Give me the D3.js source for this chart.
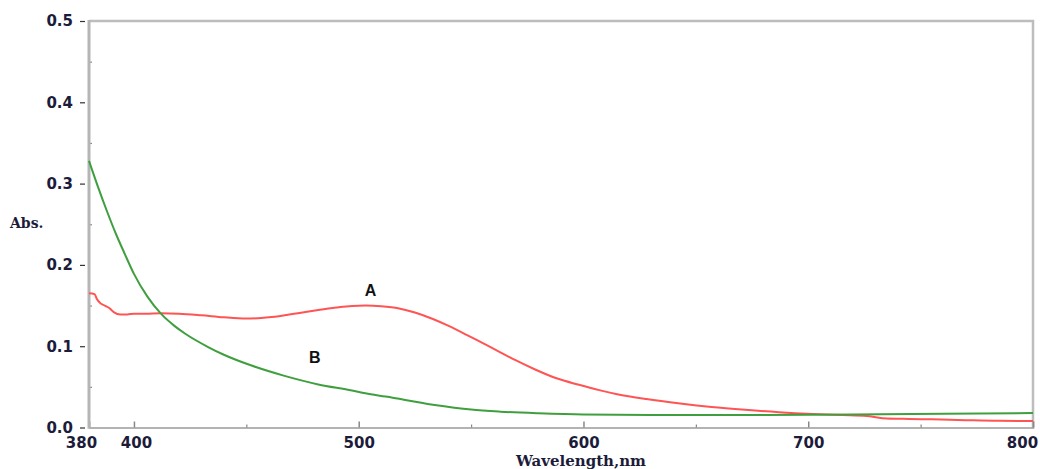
<!DOCTYPE html>
<html>
<head>
<meta charset="utf-8">
<script src="https://cdn.jsdelivr.net/npm/d3@7"></script>
<style>
  html, body { margin: 0; padding: 0; background: #ffffff; }
  svg { display: block; }
</style>
</head>
<body>
<svg id="chart" width="1040" height="469"></svg>
<script>
// ---- data ----
const xTicks = [380, 400, 500, 600, 700, 800];
const xMinorTicks = [450, 550, 650, 750];
const yTicks = [0.0, 0.1, 0.2, 0.3, 0.4, 0.5];
const yMinorTicks = [0.05, 0.15, 0.25, 0.35, 0.45];

const wavelengthA = [380, 382.5, 383.5, 385, 387, 389, 391, 394, 397, 400, 405, 412, 420, 430, 440, 450, 460, 467, 475, 482, 490, 497, 503, 510, 518, 525, 533, 540, 548, 555, 563, 570, 578, 588, 598, 607, 615, 628, 643, 657, 672, 687, 702, 715, 726, 733, 745, 755, 770, 785, 800];
const absA = [0.165, 0.164, 0.158, 0.153, 0.150, 0.147, 0.142, 0.139, 0.139, 0.140, 0.140, 0.1405, 0.140, 0.138, 0.1355, 0.134, 0.1355, 0.138, 0.1415, 0.1445, 0.1475, 0.1495, 0.150, 0.1492, 0.1465, 0.1415, 0.1335, 0.125, 0.114, 0.104, 0.0925, 0.0825, 0.072, 0.0605, 0.0525, 0.046, 0.041, 0.035, 0.0295, 0.0252, 0.0217, 0.0188, 0.0167, 0.0154, 0.0142, 0.0115, 0.0105, 0.0100, 0.0090, 0.0082, 0.0080];

const wavelengthB = [380, 384, 388, 392, 396, 400, 406, 412, 418, 423, 433, 440, 452, 467, 482, 497, 503, 512, 533, 550, 563, 580, 600, 630, 680, 720, 760, 800];
const absB = [0.328, 0.296, 0.266, 0.238, 0.213, 0.189, 0.161, 0.140, 0.125, 0.115, 0.099, 0.0895, 0.0765, 0.0635, 0.053, 0.0455, 0.042, 0.038, 0.028, 0.022, 0.0195, 0.0175, 0.016, 0.0155, 0.0155, 0.016, 0.017, 0.0178];

const seriesLabels = ["A", "B"];
const labelPos = [[505.3, 0.162], [480.4, 0.079]];   // [wavelength, abs] of each curve label (centre, baseline)
const xTitle = "Wavelength,nm";
const yTitle = "Abs.";

// ---- layout ----
const svg = d3.select("#chart");
const L = 89, R = 1033, T = 21, B = 427.5;
const x = d3.scaleLinear().domain([380, 800]).range([L, R]);
const y = d3.scaleLinear().domain([0, 0.5]).range([B, T]);

const labelColor = "#1c1c3a";
const tickFont = "'DejaVu Sans', Verdana, sans-serif";
const titleFont = "'DejaVu Serif', Cambria, serif";

// frame (top and right borders)
svg.append("path")
  .attr("d", `M${L},${T} H${R} V${B}`)
  .attr("fill", "none").attr("stroke", "#bdbdbd").attr("stroke-width", 2.5);

// x axis
const gx = svg.append("g").attr("transform", `translate(0,${B})`)
  .call(d3.axisBottom(x).tickValues(xTicks).tickSize(-6).tickPadding(9.5).tickFormat(d3.format("d")));
gx.select(".domain").attr("stroke", "#9a9a9a").attr("stroke-width", 1.5);
gx.selectAll(".tick line").attr("stroke", "#888").attr("stroke-width", 1.5);
gx.selectAll(".tick text")
  .attr("fill", labelColor).style("font-family", tickFont).style("font-weight", "bold").style("font-size", "15px")
  .attr("dx", d => d === 380 ? -8 : (d === 400 ? 2 : (d === 800 ? -11 : 0)));

const gxm = svg.append("g").attr("transform", `translate(0,${B})`)
  .call(d3.axisBottom(x).tickValues(xMinorTicks).tickSize(-3).tickFormat(""));
gxm.select(".domain").remove();
gxm.selectAll(".tick line").attr("stroke", "#888").attr("stroke-width", 1.2);

// y axis
const gy = svg.append("g").attr("transform", `translate(${L},0)`)
  .call(d3.axisLeft(y).tickValues(yTicks).tickSize(8).tickPadding(7).tickFormat(d3.format(".1f")));
gy.select(".domain").remove();
gy.selectAll(".tick line").attr("stroke", "#333").attr("stroke-width", 1.2).attr("x2", -4).attr("x1", -9);
gy.selectAll(".tick text")
  .attr("fill", labelColor).style("font-family", tickFont).style("font-weight", "bold").style("font-size", "15px")
  .attr("x", -16);

const gym = svg.append("g").attr("transform", `translate(${L},0)`)
  .call(d3.axisRight(y).tickValues(yMinorTicks).tickSize(3).tickFormat(""));
gym.select(".domain").remove();
gym.selectAll(".tick line").attr("stroke", "#888").attr("stroke-width", 1.2);

svg.append("line")
  .attr("x1", L).attr("x2", L).attr("y1", T - 1).attr("y2", B + 1)
  .attr("stroke", "#b5b5b5").attr("stroke-width", 3);

// curves
const line = d3.line().x(d => x(d[0])).y(d => y(d[1])).curve(d3.curveMonotoneX);
const dataA = wavelengthA.map((w, i) => [w, absA[i]]);
const dataB = wavelengthB.map((w, i) => [w, absB[i]]);

svg.append("path").datum(dataA).attr("d", line)
  .attr("fill", "none").attr("stroke", "#ff5454").attr("stroke-width", 2);
svg.append("path").datum(dataB).attr("d", line)
  .attr("fill", "none").attr("stroke", "#3f9f3f").attr("stroke-width", 2);

// curve labels
svg.selectAll("text.series").data(seriesLabels).enter().append("text")
  .attr("class", "series")
  .attr("x", (d, i) => x(labelPos[i][0]))
  .attr("y", (d, i) => y(labelPos[i][1]))
  .attr("text-anchor", "middle")
  .attr("fill", "#111")
  .style("font-family", "'Liberation Sans', Arial, sans-serif")
  .style("font-weight", "bold").style("font-size", "16px")
  .text(d => d);

// axis titles
svg.append("text")
  .attr("x", 581).attr("y", 466).attr("text-anchor", "middle")
  .attr("fill", labelColor).style("font-family", titleFont).style("font-weight", "bold").style("font-size", "15px")
  .text(xTitle);
svg.append("text")
  .attr("x", 10).attr("y", 228).attr("text-anchor", "start")
  .attr("fill", labelColor).style("font-family", titleFont).style("font-weight", "bold").style("font-size", "14px")
  .text(yTitle);
</script>
</body>
</html>
